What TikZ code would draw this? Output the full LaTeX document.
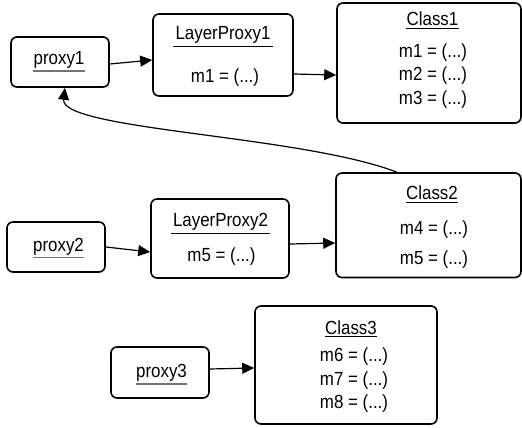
\documentclass[tikz,border=0pt]{standalone}
\usepackage{fontspec}
\setmainfont{Liberation Sans}[FakeStretch=0.89]
\usetikzlibrary{arrows.meta}
\begin{document}
\begin{tikzpicture}[x=1pt,y=-1pt,
  box/.style={draw=black,line width=1.6pt,rounded corners=6pt,inner sep=0pt},
  txt/.style={anchor=base,inner sep=0pt,font=\fontsize{19}{22}\selectfont},
  ulgray/.style={draw=black!55,line width=1.3pt},
  ulblack/.style={draw=black,line width=0.9pt},
  conn/.style={draw=black,line width=1.2pt,-{Triangle[length=12pt,width=11pt]}}]
\useasboundingbox (0,0) rectangle (522,428);
% boxes
\node[box,minimum width=98pt,minimum height=50pt] (proxy1) at (60,62) {};
\node[box,minimum width=140pt,minimum height=82pt] (lp1) at (223,55) {};
\node[box,minimum width=184pt,minimum height=120pt] (c1) at (429,63) {};
\node[box,minimum width=98pt,minimum height=50pt] (proxy2) at (56,247) {};
\node[box,minimum width=138pt,minimum height=79pt] (lp2) at (220,238.5) {};
\node[box,minimum width=185pt,minimum height=104.5pt] (c2) at (428.5,225.25) {};
\node[box,minimum width=98pt,minimum height=51pt] (proxy3) at (160,372.5) {};
\node[box,minimum width=182pt,minimum height=118pt] (c3) at (346,365) {};
% texts
\node[txt] (tp1) at (59,64.5) {proxy1};
\node[txt] (tlp1) at (223,40) {LayerProxy1};
\node[txt] (lp1m1) at (225,82.5) {m1 = (...)};
\node[txt] (tc1) at (432.5,26) {Class1};
\node[txt] (c1m1) at (433,57.3) {m1 = (...)};
\node[txt] (c1m2) at (433,80.7) {m2 = (...)};
\node[txt] (c1m3) at (433,104) {m3 = (...)};
\node[txt] (tp2) at (58.5,251) {proxy2};
\node[txt] (tlp2) at (220.5,226.7) {LayerProxy2};
\node[txt] (lp2m5) at (221.5,261) {m5 = (...)};
\node[txt] (tc2) at (432,199.3) {Class2};
\node[txt] (c2m4) at (434,234) {m4 = (...)};
\node[txt] (c2m5) at (434,264) {m5 = (...)};
\node[txt] (tp3) at (161.5,377.3) {proxy3};
\node[txt] (tc3) at (351,334) {Class3};
\node[txt] (c3m6) at (354,361.7) {m6 = (...)};
\node[txt] (c3m7) at (354,385) {m7 = (...)};
\node[txt] (c3m8) at (354,408.3) {m8 = (...)};
% underlines
\foreach \t in {tp1,tp2,tp3}
  \draw[ulgray] ([yshift=-2.5pt]\t.south west) -- ([yshift=-2.5pt]\t.south east);
\foreach \t in {tlp1,tlp2}
  \draw[ulblack] ([xshift=-2pt,yshift=-2.5pt]\t.south west) -- ([xshift=2pt,yshift=-2.5pt]\t.south east);
\foreach \t in {tc1,tc2,tc3}
  \draw[ulblack] ([yshift=-2.5pt]\t.south west) -- ([yshift=-2.5pt]\t.south east);
% connectors
\draw[conn] ([yshift=-2pt]proxy1.east) -- ([yshift=-5pt]lp1.west);
\draw[conn] ([yshift=-19pt]lp1.east) -- ([yshift=-12pt]c1.west);
\draw[conn] (proxy2.east) -- ([yshift=-13.5pt]lp2.west);
\draw[conn] ([yshift=-5.5pt]lp2.east) -- ([yshift=-17.75pt]c2.west);
\draw[conn] ([yshift=3.5pt]proxy3.east) -- ([yshift=-3pt]c3.west);
\draw[conn] ([xshift=-31.5pt]c2.north) .. controls (300,135) and (60,130) .. ([xshift=5pt]proxy1.south);
\end{tikzpicture}
\end{document}
